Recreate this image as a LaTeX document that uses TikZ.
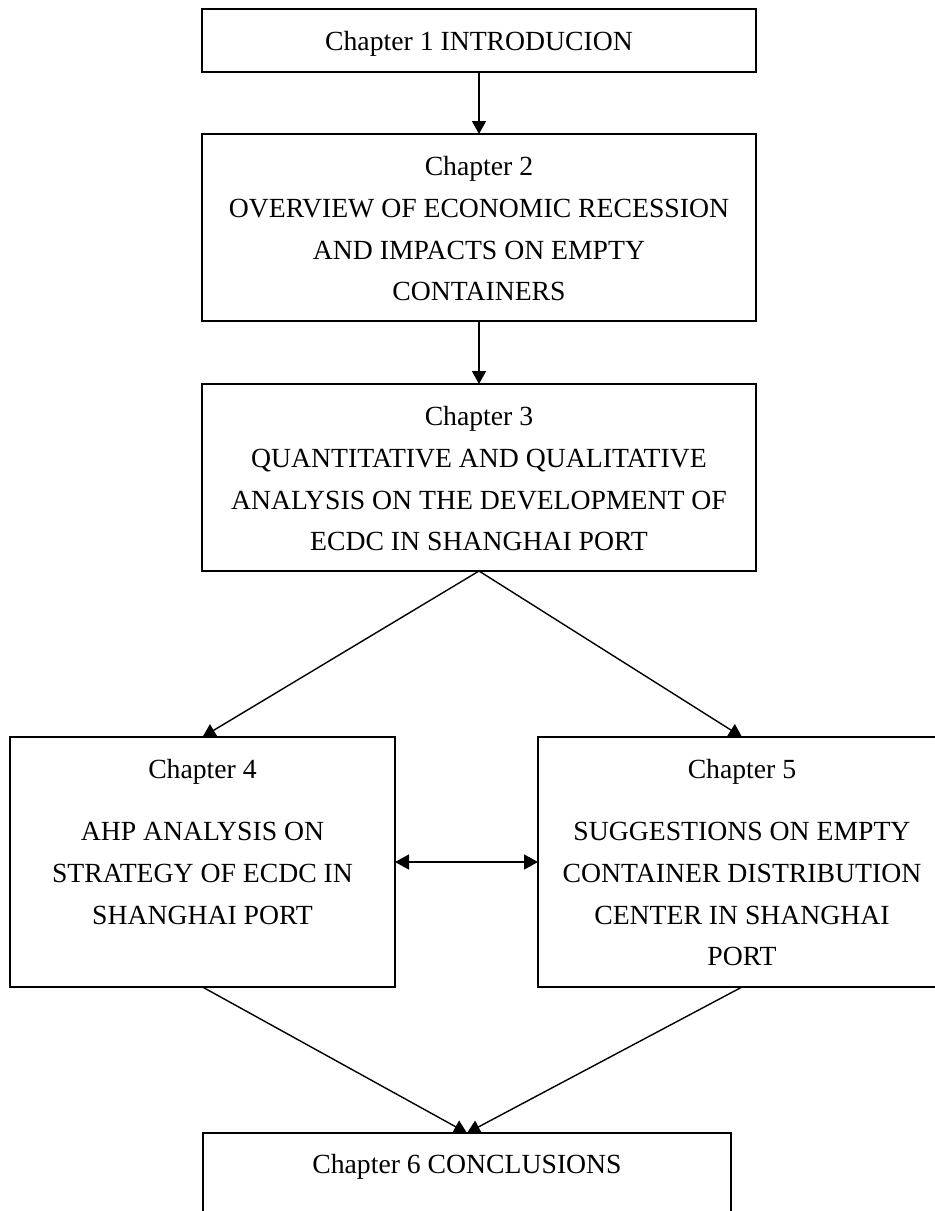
\documentclass[tikz,border=0pt]{standalone}
\usepackage{fontspec}
\setmainfont{Liberation Serif}
\usetikzlibrary{arrows.meta}
\begin{document}
\begin{tikzpicture}[x=1pt,y=-1pt,
  chbox/.style={draw, line width=1.9pt, fill=white, inner sep=0pt, outer sep=0pt, anchor=north west},
  chtext/.style={inner sep=0pt, align=center, font=\fontsize{27.7}{41.7}\selectfont},
  conn/.style={line width=1.4pt, -{Triangle[length=13pt,width=14pt]}},
  dconn/.style={line width=1.4pt, {Triangle[length=14pt,width=15pt]}-{Triangle[length=14pt,width=15pt]}}
]
\useasboundingbox (0,0) rectangle (935,1211);
\clip (0,0) rectangle (935,1211);

\node[chbox, minimum width=554pt, minimum height=63pt] (b1) at (202,9) {};
\node[chbox, minimum width=554pt, minimum height=187pt] (b2) at (202,134) {};
\node[chbox, minimum width=554pt, minimum height=187pt] (b3) at (202,384) {};
\node[chbox, minimum width=385pt, minimum height=250pt] (b4) at (10,737) {};
\node[chbox, minimum width=408pt, minimum height=250pt] (b5) at (538,737) {};
\node[chbox, minimum width=528pt, minimum height=160pt] (b6) at (203,1133) {};

\node[chtext, anchor=base] (t1) at (479,50.5) {Chapter 1 INTRODUCION};
\node[chtext, anchor=north] (t2) at (479,156.2) {Chapter 2\\OVERVIEW OF ECONOMIC RECESSION\\AND IMPACTS ON EMPTY\\CONTAINERS};
\node[chtext, anchor=north] (t3) at (479,406.2) {Chapter 3\\QUANTITATIVE AND QUALITATIVE\\ANALYSIS ON THE DEVELOPMENT OF\\ECDC IN SHANGHAI PORT};
\node[chtext, anchor=north] (t4) at (202.5,759.2) {Chapter 4\\[20.3pt]AHP ANALYSIS ON\\STRATEGY OF ECDC IN\\SHANGHAI PORT};
\node[chtext, anchor=north] (t5) at (742,759.2) {Chapter 5\\[20.3pt]SUGGESTIONS ON EMPTY\\CONTAINER DISTRIBUTION\\CENTER IN SHANGHAI\\PORT};
\node[chtext, anchor=base] (t6) at (467,1173) {Chapter 6 CONCLUSIONS};

\draw[conn] (b1.south) -- (b2.north);
\draw[conn] (b2.south) -- (b3.north);
\draw[conn] (b3.south) -- (b4.north);
\draw[conn] (b3.south) -- (b5.north);
\draw[conn] (b4.south) -- (b6.north);
\draw[conn] (b5.south) -- (b6.north);
\draw[dconn] (b4.east) -- (b5.west);
\end{tikzpicture}
\end{document}
